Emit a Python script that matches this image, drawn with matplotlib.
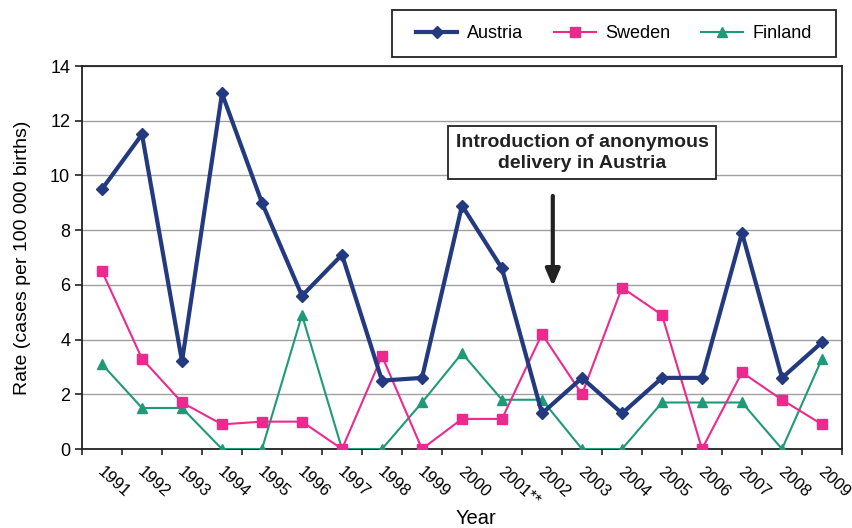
import matplotlib
matplotlib.use("Agg")
import matplotlib.pyplot as plt
import matplotlib.transforms as mtransforms
from matplotlib.patches import Rectangle

plt.rcParams['font.family'] = ['Liberation Sans', 'DejaVu Sans']

years = ["1991", "1992", "1993", "1994", "1995", "1996", "1997", "1998", "1999", "2000",
         "2001**", "2002", "2003", "2004", "2005", "2006", "2007", "2008", "2009"]
austria = [9.5, 11.5, 3.2, 13.0, 9.0, 5.6, 7.1, 2.5, 2.6, 8.9, 6.6, 1.3, 2.6, 1.3, 2.6, 2.6, 7.9, 2.6, 3.9]
sweden = [6.5, 3.3, 1.7, 0.9, 1.0, 1.0, 0.0, 3.4, 0.0, 1.1, 1.1, 4.2, 2.0, 5.9, 4.9, 0.0, 2.8, 1.8, 0.9]
finland = [3.1, 1.5, 1.5, 0.0, 0.0, 4.9, 0.0, 0.0, 1.7, 3.5, 1.8, 1.8, 0.0, 0.0, 1.7, 1.7, 1.7, 0.0, 3.3]

c_aut = "#233a80"
c_swe = "#ec2a8e"
c_fin = "#1f9a78"

W, H = 852, 528
fig = plt.figure(figsize=(W/100, H/100), dpi=100)
ax = fig.add_axes([82/W, 1-449/H, (842-82)/W, (449-66)/H])

x = list(range(len(years)))
ax.plot(x, austria, color=c_aut, lw=3, marker='D', ms=6.5, label="Austria", zorder=5)
ax.plot(x, sweden, color=c_swe, lw=1.5, marker='s', ms=7.5, label="Sweden", zorder=4)
ax.plot(x, finland, color=c_fin, lw=1.5, marker='^', ms=7.5, label="Finland", zorder=3)

ax.set_xlim(-0.5, len(years) - 0.5)
ax.set_ylim(0, 14)
ax.set_yticks(range(0, 15, 2))
ax.set_xticks([i - 0.5 for i in range(len(years) + 1)], minor=False)
ax.set_xticklabels([])
ax.set_xticks(x, minor=True)
ax.set_xticklabels(years, minor=True, rotation=-42, ha='left', va='top',
                   rotation_mode='anchor', fontsize=12)
ax.tick_params(axis='x', which='minor', length=0, pad=11)
offset = mtransforms.ScaledTranslation(2/72, 0, fig.dpi_scale_trans)
for lab in ax.get_xticklabels(minor=True):
    lab.set_transform(lab.get_transform() + offset)
ax.tick_params(axis='x', which='major', length=4, direction='out', width=1.2, color='#222222')
ax.tick_params(axis='y', length=5, direction='out', width=1.2, labelsize=13, color='#222222')
ax.yaxis.grid(True, color='#a0a0a0', lw=1)
ax.set_axisbelow(True)
for s in ax.spines.values():
    s.set_linewidth(1.3)
    s.set_color('#222222')

ax.set_ylabel("Rate (cases per 100 000 births)", fontsize=14)
ax.yaxis.set_label_coords((31 - 82) / 760, 0.5)
fig.text(476/W, 1-518/H, "Year", ha='center', va='center', fontsize=14.5)

ax.text(12.0, 10.83, "Introduction of anonymous\ndelivery in Austria", ha='center', va='center',
        fontsize=14, fontweight='bold', color='#222222', linespacing=1.3,
        bbox=dict(boxstyle='square,pad=0.4', fc='white', ec='#222222', lw=1.3), zorder=6)
ax.annotate("", xy=(11.27, 5.95), xytext=(11.27, 9.25),
            arrowprops=dict(arrowstyle='-|>,head_length=1.0,head_width=0.43', color='#222222',
                            lw=3, mutation_scale=10, shrinkA=0, shrinkB=0), zorder=6)

fig.patches.append(Rectangle((392/W, 1-57/H), (836-392)/W, (57-10)/H, transform=fig.transFigure,
                             fill=False, ec='#222222', lw=1.3))
leg = fig.legend(loc='center', bbox_to_anchor=(614/W, 1-33.5/H), ncol=3, frameon=False,
                 fontsize=13, handlelength=2.3, columnspacing=1.7, handletextpad=0.55,
                 borderpad=0)

fig.savefig("out.png", dpi=100)
